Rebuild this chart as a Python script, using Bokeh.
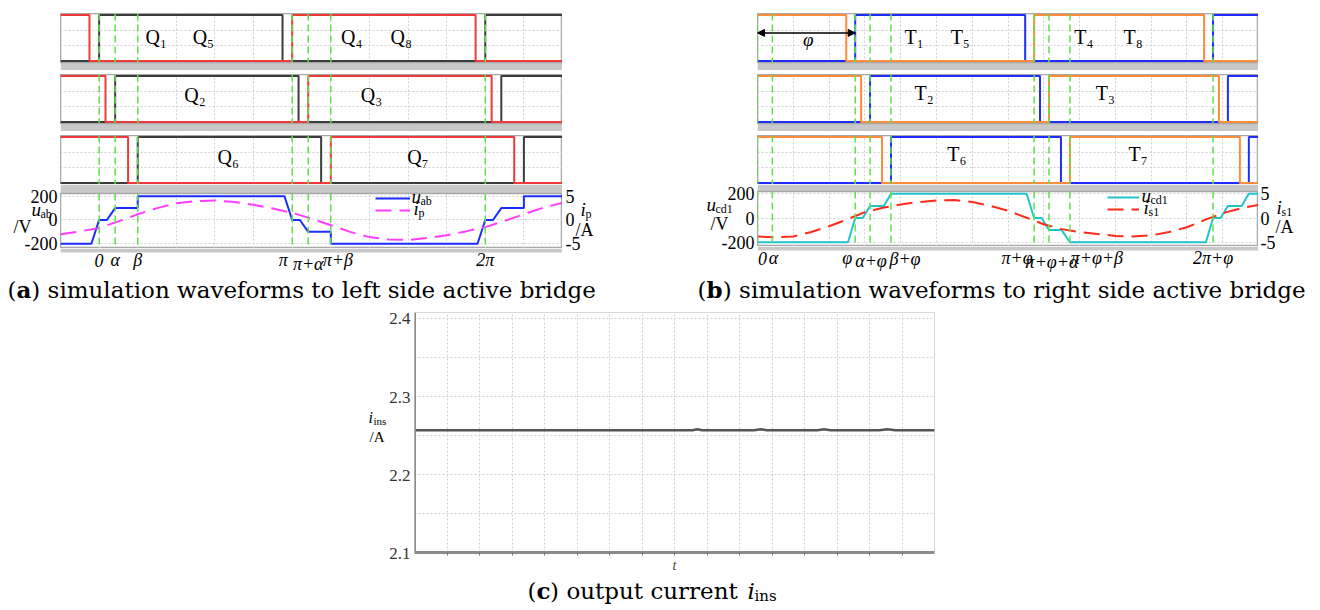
import numpy as np
from bokeh.plotting import figure
from bokeh.layouts import column, row
from bokeh.models import (Spacer, Label, Span, FixedTicker, Range1d, Grid, BoxAnnotation,
                          Legend, LegendItem, Arrow, NormalHead)
from bokeh.embed import file_html
from bokeh.resources import INLINE

# ================= DATA (phase angle in units of pi) =================
alpha = 0.083
beta = 0.2
phi = 0.546

# (a) left-side bridge gate signals: switching instants and logic level (step "after")
q15_t = [-0.2, 0.0, 0.95, 2.0, 2.4]
q15_s = [0, 1, 0, 1, 1]
q48_t = [-0.2, -0.05, 1.0, 1.95, 2.4]
q48_s = [1, 0, 1, 0, 0]
q2_t = [-0.2, 0.083, 1.033, 2.083, 2.4]
q2_s = [0, 1, 0, 1, 1]
q3_t = [-0.2, 0.033, 1.083, 2.033, 2.4]
q3_s = [1, 0, 1, 0, 0]
q6_t = [-0.2, 0.2, 1.15, 2.2, 2.4]
q6_s = [0, 1, 0, 1, 1]
q7_t = [-0.2, 0.15, 1.2, 2.15, 2.4]
q7_s = [1, 0, 1, 0, 0]

# (a) u_ab [V] and i_p [A]
uab_t = [-0.2, -0.04, 0.0, 0.04, 0.083, 0.2, 0.2, 0.96, 1.0, 1.04, 1.083, 1.2, 1.2,
         1.96, 2.0, 2.04, 2.083, 2.2, 2.2, 2.4]
uab_v = [-200, -200, 0, 0, 100, 100, 200, 200, 0, 0, -100, -100, -200,
         -200, 0, 0, 100, 100, 200, 200]
ip_t = [-0.2, -0.1, 0.0, 0.1, 0.2, 0.3, 0.4, 0.5, 0.6, 0.7, 0.8, 0.9, 1.0, 1.1, 1.2,
        1.3, 1.4, 1.5, 1.6, 1.7, 1.8, 1.9, 2.0, 2.1, 2.2, 2.3, 2.4]
ip_v = [-3.0, -2.4, -1.7, -0.3, 1.2, 2.5, 3.5, 4.0, 4.1, 3.8, 3.2, 2.4, 1.5, 0.3, -1.1,
        -2.5, -3.6, -4.1, -4.2, -3.8, -3.2, -2.4, -1.5, -0.2, 1.2, 2.6, 3.6]

# (b) right-side bridge gate signals
t15_t = [0.0, 0.546, 1.496, 2.546, 2.8]
t15_s = [0, 1, 0, 1, 1]
t48_t = [0.0, 0.496, 1.546, 2.496, 2.8]
t48_s = [1, 0, 1, 0, 0]
t2_t = [0.0, 0.629, 1.579, 2.629, 2.8]
t2_s = [0, 1, 0, 1, 1]
t3_t = [0.0, 0.579, 1.629, 2.579, 2.8]
t3_s = [1, 0, 1, 0, 0]
t6_t = [0.0, 0.746, 1.696, 2.746, 2.8]
t6_s = [0, 1, 0, 1, 1]
t7_t = [0.0, 0.696, 1.746, 2.696, 2.8]
t7_s = [1, 0, 1, 0, 0]

# (b) u_cd1 [V] and i_s1 [A]
ucd_t = [0.0, 0.506, 0.546, 0.588, 0.629, 0.706, 0.746, 1.504, 1.546, 1.588, 1.629,
         1.70, 1.746, 2.506, 2.546, 2.588, 2.629, 2.706, 2.746, 2.8]
ucd_v = [-200, -200, 0, 0, 100, 100, 200, 200, 0, 0, -100,
         -100, -200, -200, 0, 0, 100, 100, 200, 200]
is_t = [0.0, 0.1, 0.2, 0.3, 0.4, 0.5, 0.6, 0.7, 0.8, 0.9, 1.0, 1.1, 1.2, 1.3, 1.4,
        1.5, 1.6, 1.7, 1.8, 1.9, 2.0, 2.1, 2.2, 2.3, 2.4, 2.5, 2.6, 2.7, 2.8]
is_v = [-3.8, -4.0, -3.8, -2.9, -1.7, -0.3, 1.2, 2.1, 2.8, 3.3, 3.6, 3.7, 3.3, 2.5, 1.5,
        0.1, -1.3, -2.3, -2.9, -3.3, -3.7, -3.8, -3.6, -2.9, -1.9, -0.4, 1.0, 2.0, 2.7]

# voltage / current axis ticks
volt_ticks = [-200, 0, 200]
volt_lbls = ["-200", "0", "200"]
cur_ticks = [-5, 0, 5]
cur_lbls = ["-5", "0", "5"]

# marker instants and their tick labels
marks_a = [0.0, alpha, beta, 1.0, 1.0 + alpha, 1.0 + beta, 2.0]
ticks_a = ["0", "α", "β", "π", "π+α", "π+β", "2π"]
marks_b = [0.0, alpha, phi, phi + alpha, phi + beta, 1.0 + phi, 1.0 + phi + alpha,
           1.0 + phi + beta, 2.0 + phi]
ticks_b = ["0", "α", "φ", "α+φ", "β+φ", "π+φ", "π+φ+α", "π+φ+β", "2π+φ"]

# switch names
qa_names = [["Q₁", "Q₅", "Q₄", "Q₈"], ["Q₂", "Q₃"], ["Q₆", "Q₇"]]
qa_pos = [[0.296, 0.54, 1.308, 1.565], [0.497, 1.411], [0.669, 1.651]]
tb_names = [["T₁", "T₅", "T₄", "T₈"], ["T₂", "T₃"], ["T₆", "T₇"]]
tb_pos = [[0.875, 1.133, 1.824, 2.099], [0.931, 1.944], [1.114, 2.127]]

# (c) output current
iins_t = [0, 8.55, 8.7, 8.85, 10.45, 10.65, 10.85, 12.4, 12.6, 12.8, 14.3, 14.55, 14.8, 16]
iins_v = [2.257, 2.257, 2.2583, 2.257, 2.257, 2.2583, 2.257, 2.257, 2.2583, 2.257,
          2.257, 2.2583, 2.257, 2.257]
iins_ticks = [2.1, 2.2, 2.3, 2.4]
iins_lbls = ["2.1", "2.2", "2.3", "2.4"]

# ================= STYLE =================
SERIF = "Liberation Serif"
CAP = "DejaVu Serif"
GRID = "#d0d0d0"
BAND = "#c8c8c8"
GREEN = "#5fe04a"
OUTLINE = "#a8a8a8"
RED_A, BLACK_A = "#ee3a3a", "#3c3c3c"
BLUE_B, ORANGE_B = "#1f2eff", "#ff8c3a"
BLUE_W, MAGENTA = "#1a2cff", "#ff3cff"
CYAN, RED_W = "#22c4cc", "#ff2a1a"
CAPSIZE = 23

ORIG = {}


def mk_label(p, x, y, s, size, style="normal", font=SERIF, align="left", base="middle",
             xu="screen", yu="screen", xo=0, yo=0, color="black"):
    p.add_layout(Label(x=x, y=y, x_units=xu, y_units=yu, x_offset=xo, y_offset=yo, text=s,
                       text_font=font, text_font_size=f"{size}px", text_font_style=style,
                       text_align=align, text_baseline=base, text_color=color))


def at(p, X, Y, s, size, **kw):
    # absolute page position -> screen units of a canvas whose frame is the whole figure
    left, bottom = ORIG[id(p)]
    mk_label(p, X - left, bottom - Y, s, size, **kw)


def text_fig(width, height, X0, Y0, xr=None, yr=None):
    p = figure(width=width, height=height,
               x_range=xr if xr is not None else Range1d(0, width),
               y_range=yr if yr is not None else Range1d(0, height),
               x_axis_type=None, y_axis_type=None, output_backend="svg", toolbar_location=None,
               min_border=0, outline_line_color=None, background_fill_color="white",
               border_fill_color="white")
    ORIG[id(p)] = (X0, Y0 + height)
    return p


def gate_fig(xr, width, band, ta, sa, ca, tb, sb, cb, marks, grid_x, names, pos, ly):
    p = figure(width=width, height=49 + band, x_range=xr, y_range=Range1d(-0.03, 1.03),
               x_axis_type=None, y_axis_type=None, output_backend="svg", toolbar_location=None,
               min_border_left=0, min_border_right=0, min_border_top=0, min_border_bottom=band,
               border_fill_color=BAND, background_fill_color="white",
               outline_line_color=OUTLINE, outline_line_width=1.5)
    p.add_layout(Grid(dimension=0, ticker=FixedTicker(ticks=grid_x), grid_line_color=GRID,
                      grid_line_dash="2 2"))
    p.add_layout(Grid(dimension=1, ticker=FixedTicker(ticks=[1 / 3, 2 / 3]), grid_line_color=GRID,
                      grid_line_dash="2 2"))
    p.step(ta, sa, mode="after", line_color=ca, line_width=2)
    p.step(tb, sb, mode="after", line_color=cb, line_width=2)
    for m in marks:
        p.add_layout(Span(location=m, dimension="height", line_color=GREEN, line_dash="7 4",
                          line_width=1.5))
    for s, x in zip(names, pos):
        mk_label(p, x, ly, s, 20, align="center", base="middle", xu="data", yu="data")
    return p


def wave_fig(xr, yr, width, top, frame_h, marks, grid_x):
    # the top border (gray) doubles as the separator band under the last gate row
    p = figure(width=width, height=top + frame_h, x_range=xr, y_range=Range1d(*yr),
               x_axis_type=None, y_axis_type=None, output_backend="svg", toolbar_location=None,
               min_border_left=0, min_border_right=0, min_border_top=top, min_border_bottom=0,
               background_fill_color="white", border_fill_color=BAND,
               outline_line_color=OUTLINE, outline_line_width=1.5)
    p.extra_y_ranges = {"cur": Range1d(yr[0] / 40.0, yr[1] / 40.0)}
    p.add_layout(Grid(dimension=0, ticker=FixedTicker(ticks=grid_x), grid_line_color=GRID,
                      grid_line_dash="2 2"))
    p.add_layout(Grid(dimension=1, ticker=FixedTicker(ticks=volt_ticks), grid_line_color=GRID,
                      grid_line_dash="2 2"))
    for m in marks:
        p.add_layout(Span(location=m, dimension="height", line_color=GREEN, line_dash="7 4",
                          line_width=1.5))
    return p


def add_legend(p, r_a, r_b, loc, gw):
    p.add_layout(Legend(items=[LegendItem(label=" ", renderers=[r_a]),
                               LegendItem(label=" ", renderers=[r_b])],
                        location=loc, glyph_width=gw, glyph_height=12, label_height=12,
                        label_width=0, label_standoff=0, spacing=0, padding=0, margin=0,
                        border_line_color=None, background_fill_alpha=0,
                        label_text_font_size="1px", label_text_color=None))


grid_a = [round(-0.2 + 0.2 * k, 2) for k in range(14)]
grid_b = [round(0.2 * k, 2) for k in range(15)]
xr_a = Range1d(-0.2, 2.4)
xr_b = Range1d(0.0, 2.8)
QY = [0.522, 0.580, 0.558]
TY = [0.522, 0.623, 0.625]
TOPH = 274  # height of the upper block (gate rows + waveform + tick labels)

# ================= panel (a) =================
a1 = gate_fig(xr_a, 502, 8, q15_t, q15_s, BLACK_A, q48_t, q48_s, RED_A, marks_a, grid_a,
              qa_names[0], qa_pos[0], QY[0])
a2 = gate_fig(xr_a, 502, 8, q2_t, q2_s, BLACK_A, q3_t, q3_s, RED_A, marks_a, grid_a,
              qa_names[1], qa_pos[1], QY[1])
a3 = gate_fig(xr_a, 502, 0, q6_t, q6_s, BLACK_A, q7_t, q7_s, RED_A, marks_a, grid_a,
              qa_names[2], qa_pos[2], QY[2])

YR_A = (-240.0, 223.0)
UPP_A = (YR_A[1] - YR_A[0]) / 55.0
wa = wave_fig(xr_a, YR_A, 502, 9, 55, marks_a, grid_a)
r1 = wa.line(uab_t, uab_v, line_color=BLUE_W, line_width=2)
r2 = wa.line(ip_t, ip_v, y_range_name="cur", line_color=MAGENTA, line_width=2, line_dash="16 8")
add_legend(wa, r1, r2, (315, 32), 35)
ORIG[id(wa)] = (60, 248)
at(wa, 411, 196, "u", 19, style="italic")
at(wa, 420, 200, "ab", 12)
at(wa, 413, 208, "i", 19, style="italic")
at(wa, 418, 212, "p", 12)

TA = text_fig(502, 26, 60, 248, xr=xr_a)
TA.add_layout(BoxAnnotation(top=26, bottom=22, top_units="screen", bottom_units="screen",
                            fill_color=BAND, fill_alpha=1, line_color=None))
my_a = [259.5, 259.5, 259.5, 259, 263, 259.5, 259.5]
dx_a = [0, 0, 0, -9, 0, 7, 0]
for m, s, dx, ym in zip(marks_a, ticks_a, dx_a, my_a):
    mk_label(TA, m, TOPH - ym, s, 18, style="italic", align="center", xu="data", xo=dx)

yl_a = Range1d(YR_A[0] - 26 * UPP_A, YR_A[1] + 193 * UPP_A)
LA = text_fig(60, TOPH, 0, 0, yr=yl_a)
for v, s in zip(volt_ticks, volt_lbls):
    mk_label(LA, 57, v, s, 18, align="right", yu="data")
at(LA, 31, 209, "u", 19, style="italic")
at(LA, 40, 213, "ab", 12)
at(LA, 13, 226, "/V", 18)

RA = text_fig(98, TOPH, 562, 0, yr=Range1d(yl_a.start / 40.0, yl_a.end / 40.0))
for v, s in zip(cur_ticks, cur_lbls):
    mk_label(RA, 3, v, s, 18, align="left", yu="data")
at(RA, 580, 209, "i", 19, style="italic")
at(RA, 585, 213, "p", 12)
at(RA, 575, 229, "/A", 18)

CA = text_fig(660, 308 - TOPH, 0, TOPH)
at(CA, 7, 289, "(", CAPSIZE, font=CAP)
at(CA, 16, 289, "a", CAPSIZE, font=CAP, style="bold")
at(CA, 30.8, 289, ") simulation waveforms to left side active bridge", CAPSIZE, font=CAP)

# ================= panel (b) =================
b1 = gate_fig(xr_b, 501, 8, t15_t, t15_s, BLUE_B, t48_t, t48_s, ORANGE_B, marks_b, grid_b,
              tb_names[0], tb_pos[0], TY[0])
b2 = gate_fig(xr_b, 501, 8, t2_t, t2_s, BLUE_B, t3_t, t3_s, ORANGE_B, marks_b, grid_b,
              tb_names[1], tb_pos[1], TY[1])
b3 = gate_fig(xr_b, 501, 0, t6_t, t6_s, BLUE_B, t7_t, t7_s, ORANGE_B, marks_b, grid_b,
              tb_names[2], tb_pos[2], TY[2])
b1.add_layout(Arrow(start=NormalHead(size=7, fill_color="black", line_color="black"),
                    end=NormalHead(size=7, fill_color="black", line_color="black"),
                    x_start=0.0, y_start=0.61, x_end=phi, y_end=0.61,
                    line_color="black", line_width=1.5))
mk_label(b1, 0.284, 0.474, "φ", 19, style="italic", align="center", xu="data", yu="data")

YR_B = (-235.5, 219.0)
UPP_B = (YR_B[1] - YR_B[0]) / 55.0
wb = wave_fig(xr_b, YR_B, 501, 7, 55, marks_b, grid_b)
r3 = wb.line(ucd_t, ucd_v, line_color=CYAN, line_width=2)
r4 = wb.line(is_t, is_v, y_range_name="cur", line_color=RED_W, line_width=2, line_dash="16 8")
add_legend(wb, r3, r4, (350, 31), 32)
ORIG[id(wb)] = (757, 246)
at(wb, 1141, 195, "u", 19, style="italic")
at(wb, 1150, 199, "cd1", 12)
at(wb, 1143, 207, "i", 19, style="italic")
at(wb, 1148, 211, "s1", 12)

TB = text_fig(501, 28, 757, 246, xr=xr_b)
TB.add_layout(BoxAnnotation(top=28, bottom=24, top_units="screen", bottom_units="screen",
                            fill_color=BAND, fill_alpha=1, line_color=None))
my_b = [257.5, 257.5, 257, 260, 258, 257, 261.5, 257, 257.5]
dx_b = [5, 1, -8, 1, 14, -17, 3, 27, 0]
for m, s, dx, ym in zip(marks_b, ticks_b, dx_b, my_b):
    mk_label(TB, m, TOPH - ym, s, 18, style="italic", align="center", xu="data", xo=dx)

yl_b = Range1d(YR_B[0] - 28 * UPP_B, YR_B[1] + 191 * UPP_B)
LB = text_fig(97, TOPH, 660, 0, yr=yl_b)
for v, s in zip(volt_ticks, volt_lbls):
    mk_label(LB, 94, v, s, 18, align="right", yu="data")
at(LB, 706, 204, "u", 19, style="italic")
at(LB, 715, 208, "cd1", 12)
at(LB, 710, 223, "/V", 18)

RB = text_fig(62, TOPH, 1258, 0, yr=Range1d(yl_b.start / 40.0, yl_b.end / 40.0))
for v, s in zip(cur_ticks, cur_lbls):
    mk_label(RB, 2, v, s, 18, align="left", yu="data")
at(RB, 1276, 207, "i", 19, style="italic")
at(RB, 1281, 211, "s1", 12)
at(RB, 1275, 226, "/A", 18)

CB = text_fig(660, 308 - TOPH, 660, TOPH)
at(CB, 697, 289, "(", CAPSIZE, font=CAP)
at(CB, 706, 289, "b", CAPSIZE, font=CAP, style="bold")
at(CB, 722.3, 289, ") simulation waveforms to right side active bridge", CAPSIZE, font=CAP)

# ================= panel (c) =================
YR_C = (2.1, 2.4083)
pc = figure(width=521, height=267, x_range=Range1d(0, 16), y_range=Range1d(*YR_C),
            y_axis_type=None, output_backend="svg", toolbar_location=None,
            min_border_left=0, min_border_right=1, min_border_top=4, min_border_bottom=22,
            background_fill_color="white", border_fill_color="white",
            outline_line_color="#d8d8d8", outline_line_width=1)
pc.line(iins_t, iins_v, line_color="#555555", line_width=2.5)
pc.xaxis.ticker = FixedTicker(ticks=list(range(1, 16)))
pc.xaxis.major_label_text_font_size = "1px"
pc.xaxis.major_label_text_color = None
pc.xaxis.major_label_standoff = 0
pc.xaxis.major_tick_out = 3
pc.xaxis.major_tick_in = 0
pc.xaxis.major_tick_line_color = "#777777"
pc.xaxis.minor_tick_line_color = None
pc.xaxis.axis_line_color = "#8c8c8c"
pc.xaxis.axis_line_width = 3
pc.xaxis.axis_label = "t"
pc.xaxis.axis_label_text_font = SERIF
pc.xaxis.axis_label_text_font_style = "italic"
pc.xaxis.axis_label_text_font_size = "14px"
pc.xaxis.axis_label_standoff = 2
pc.add_layout(Grid(dimension=1, ticker=FixedTicker(ticks=[2.1, 2.15, 2.2, 2.25, 2.3, 2.35, 2.4]),
                   grid_line_color=GRID, grid_line_dash="2 2"))
pc.xgrid.grid_line_color = GRID
pc.xgrid.grid_line_dash = "2 2"
pc.add_layout(Span(location=0, dimension="height", line_color="#8c8c8c", line_width=3))

upp_c = (YR_C[1] - YR_C[0]) / 241.0
LC = text_fig(84, 267, 330, 308, yr=Range1d(YR_C[0] - 22 * upp_c, YR_C[1] + 4 * upp_c))
for v, s in zip(iins_ticks, iins_lbls):
    mk_label(LC, 80, v, s, 17, align="right", yu="data", color="#333333")
at(LC, 368, 417, "i", 16, style="italic")
at(LC, 373, 420, "ins", 11)
at(LC, 369, 436, "/A", 15)

BC = text_fig(660, 35, 330, 575)
at(BC, 527, 590, "(", CAPSIZE, font=CAP)
at(BC, 536, 590, "c", CAPSIZE, font=CAP, style="bold")
at(BC, 549.6, 590, ") output current", CAPSIZE, font=CAP)
at(BC, 747, 590, "i", CAPSIZE, font=CAP, style="italic")
at(BC, 754, 595, "ins", 15, font=CAP)

# ================= layout =================
colA = column(Spacer(width=502, height=13), a1, Spacer(width=502, height=4), a2,
              Spacer(width=502, height=4), a3, wa, TA)
colB = column(Spacer(width=501, height=13), b1, Spacer(width=501, height=4), b2,
              Spacer(width=501, height=4), b3, wb, TB)
panelA = column(row(LA, colA, RA), CA)
panelB = column(row(LB, colB, RB), CB)
layout = column(row(panelA, panelB),
                row(Spacer(width=330, height=267), LC, column(pc), Spacer(width=385, height=267)),
                row(Spacer(width=330, height=35), BC))

open("out.html", "w").write(file_html(layout, INLINE))
